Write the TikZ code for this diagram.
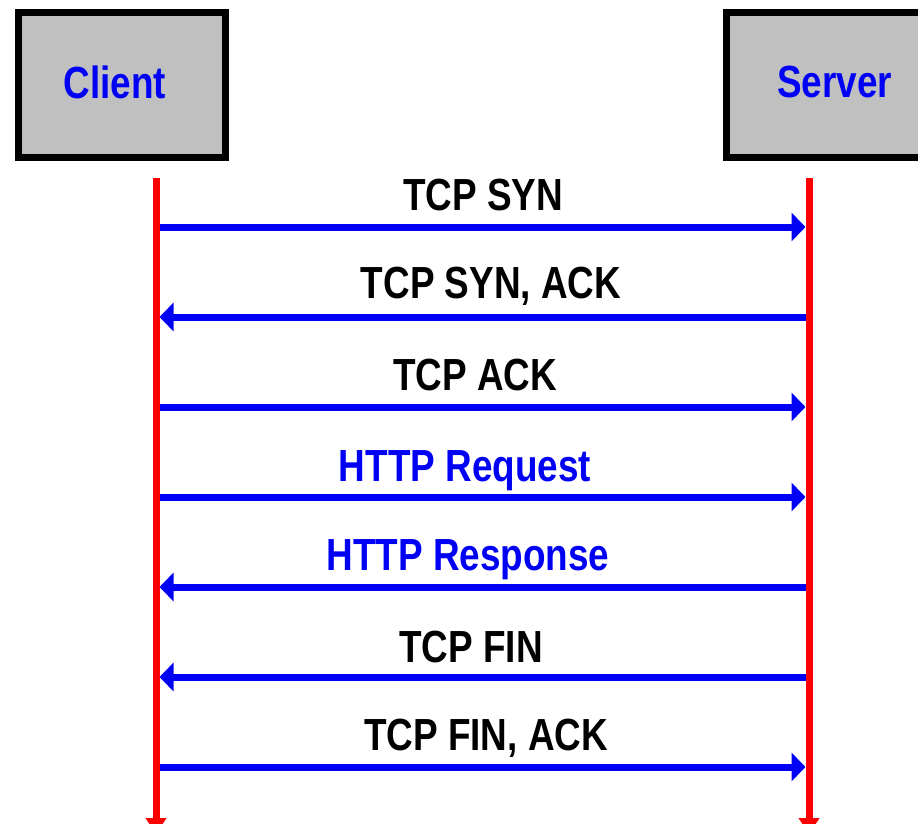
\documentclass[tikz,border=0pt]{standalone}
\usepackage{fontspec}
\usepackage{graphicx}
\setmainfont{Liberation Sans}
\usetikzlibrary{arrows.meta}
\newcommand{\cz}[1]{\scalebox{0.82}[1]{#1}}
\definecolor{boxgray}{RGB}{192,192,192}
\definecolor{pureblue}{RGB}{0,0,245}
\definecolor{purered}{RGB}{250,0,0}
\tikzset{
  hostbox/.style={draw=black, line width=7pt, fill=boxgray, minimum height=145pt, inner sep=0pt,
    text=pureblue, font=\fontsize{45}{54}\selectfont\bfseries},
  lifeline/.style={draw=purered, line width=7pt, -{Triangle[length=16pt,width=20pt]}},
  msg/.style={draw=pureblue, line width=7pt, -{Triangle[length=14pt,width=28pt]}},
  lbl/.style={anchor=base, inner sep=0pt, font=\fontsize{45}{54}\selectfont\bfseries},
  tcplbl/.style={lbl, text=black},
  httplbl/.style={lbl, text=pureblue}
}
\begin{document}
\begin{tikzpicture}[x=1pt, y=-1pt]
\useasboundingbox (0,0) rectangle (918,824);
\fill[white] (0,0) rectangle (918,824);
% host boxes
\node[hostbox, minimum width=207pt, anchor=north west] (client) at (15,9) {\cz{Client}\rule[-6pt]{14pt}{0pt}};
\node[hostbox, minimum width=216pt, anchor=north west] (server) at (723,9) {\cz{Server}\rule[-6pt]{0pt}{0pt}};
% lifelines
\coordinate (ctop) at (156,178);
\coordinate (cbot) at (156,834);
\coordinate (stop) at (809,178);
\coordinate (sbot) at (809,834);
\draw[lifeline] (ctop) -- (cbot);
\draw[lifeline] (stop) -- (sbot);
% message end points
\foreach \i/\y in {1/227,2/317,3/407,4/497,5/587,6/677,7/767}{
  \coordinate (c\i) at (159.5,\y);
  \coordinate (s\i) at (805.5,\y);
}
\draw[msg] (c1) -- (s1);
\draw[msg] (s2) -- (c2);
\draw[msg] (c3) -- (s3);
\draw[msg] (c4) -- (s4);
\draw[msg] (s5) -- (c5);
\draw[msg] (s6) -- (c6);
\draw[msg] (c7) -- (s7);
% labels
\node[tcplbl] (l1) at (483,210) {\cz{TCP SYN}};
\node[tcplbl] (l2) at (491,298) {\cz{TCP SYN, ACK}};
\node[tcplbl] (l3) at (475,390) {\cz{TCP ACK}};
\node[httplbl] (l4) at (465,481) {\cz{HTTP Request}};
\node[httplbl] (l5) at (468,570) {\cz{HTTP Response}};
\node[tcplbl] (l6) at (471,662) {\cz{TCP FIN}};
\node[tcplbl] (l7) at (486,750) {\cz{TCP FIN, ACK}};
\end{tikzpicture}
\end{document}
